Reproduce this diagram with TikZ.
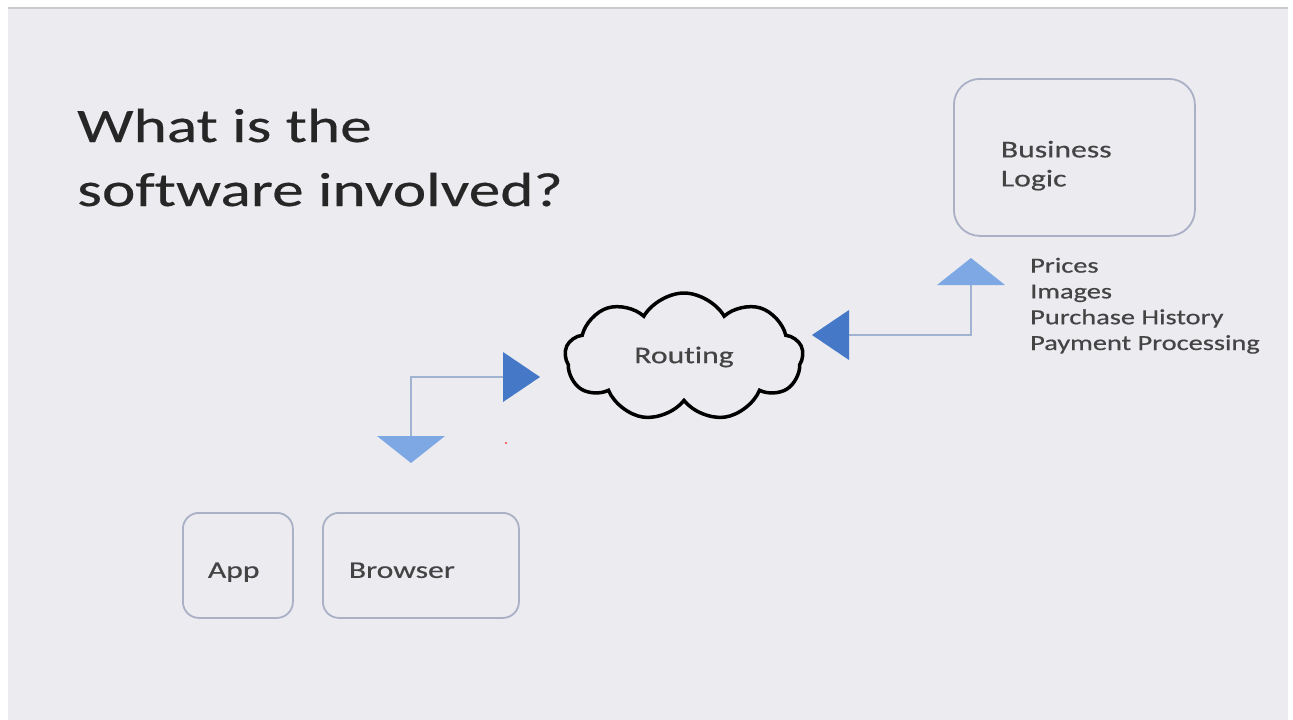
\documentclass[tikz,border=0pt]{standalone}
\usepackage{graphicx}
\usepackage{fontspec}
\setmainfont{Carlito}[Ligatures=NoCommon]
\usepackage{tikz}
\usetikzlibrary{shapes.symbols, arrows.meta, positioning}

\definecolor{slidebg}{HTML}{ECEBF0}
\definecolor{slideedge}{HTML}{C9C9CE}
\definecolor{boxline}{HTML}{AAB0C6}
\definecolor{linkblue}{HTML}{A0B4D2}
\definecolor{palearrow}{HTML}{7DA8E4}
\definecolor{deeparrow}{HTML}{4678C8}
\definecolor{titletext}{HTML}{262626}
\definecolor{labeltext}{HTML}{444444}

% the slide text is stretched sideways
\newcommand{\wide}[1]{\scalebox{1.32}[1]{#1}}

\tikzset{
    paletip/.tip={Triangle[width=68pt, length=27pt, fill=palearrow, color=palearrow, line width=0pt]},
    deeptip/.tip={Triangle[width=50pt, length=37pt, fill=deeparrow, color=deeparrow, line width=0pt]}
}

\begin{document}
\begin{tikzpicture}[x=1pt, y=-1pt,
    softbox/.style={draw=boxline, line width=1.8pt, rounded corners=16pt, fill=slidebg, align=left,
        text=labeltext, font=\fontsize{24}{29}\selectfont\addfontfeature{FakeBold=0.4}},
    caption/.style={text=labeltext, align=left, inner sep=0pt},
    link/.style={draw=linkblue, line width=2pt}
]
\useasboundingbox (0,0) rectangle (1293,720);

% Slide
\fill[white] (0,0) rectangle (1293,720);
\fill[slidebg] (8,8) rectangle (1288,720);
\draw[slideedge, line width=1.5pt] (8,8) -- (1288,8);

% Title
\node[caption, text=titletext, anchor=base west, font=\fontsize{48}{64}\selectfont\addfontfeature{FakeBold=0.3}] (title) at (77,206)
    {\wide{What is the}\\\wide{software involved?}};

% Boxes
\node[softbox, rounded corners=26pt, anchor=north west, inner xsep=47pt, text width=147pt, minimum height=157pt,
    text height=33pt, text depth=33pt] (logic) at (953,78) {\wide{Business}\\\wide{Logic}};
\node[softbox, anchor=north west, inner xsep=25pt, text width=60pt, minimum height=105pt,
    text height=25pt, text depth=0pt] (app) at (182,512) {\wide{App}};
\node[softbox, anchor=north west, inner xsep=26pt, text width=144pt, minimum height=105pt,
    text height=25pt, text depth=0pt] (browser) at (322,512) {\wide{Browser}};

% Cloud
\node[cloud, draw=black, line width=3.5pt, fill=slidebg, cloud puffs=9, cloud puff arc=120, aspect=1.8,
    minimum width=238pt, minimum height=128pt, inner sep=0pt, text=labeltext,
    font=\fontsize{24}{29}\selectfont\addfontfeature{FakeBold=0.4}] (routing) at (684,357) {\wide{Routing}};

% Data served
\node[caption, anchor=base west, font=\fontsize{21.5}{25.8}\selectfont\addfontfeature{FakeBold=0.5}] (data) at (1030,350)
    {\wide{Prices}\\\wide{Images}\\\wide{Purchase History}\\\wide{Payment Processing}};

% Connectors
\coordinate (toclient) at (411,463);
\coordinate (torouting) at (540,377);
\coordinate (tologic) at (971,258);
\coordinate (fromlogic) at (812,335);

\draw[link, paletip-deeptip] (toclient) |- (torouting);
\draw[link, paletip-deeptip] (tologic) |- (fromlogic);

\fill[red!75] (506,443) circle (1.2pt);
\end{tikzpicture}
\end{document}
